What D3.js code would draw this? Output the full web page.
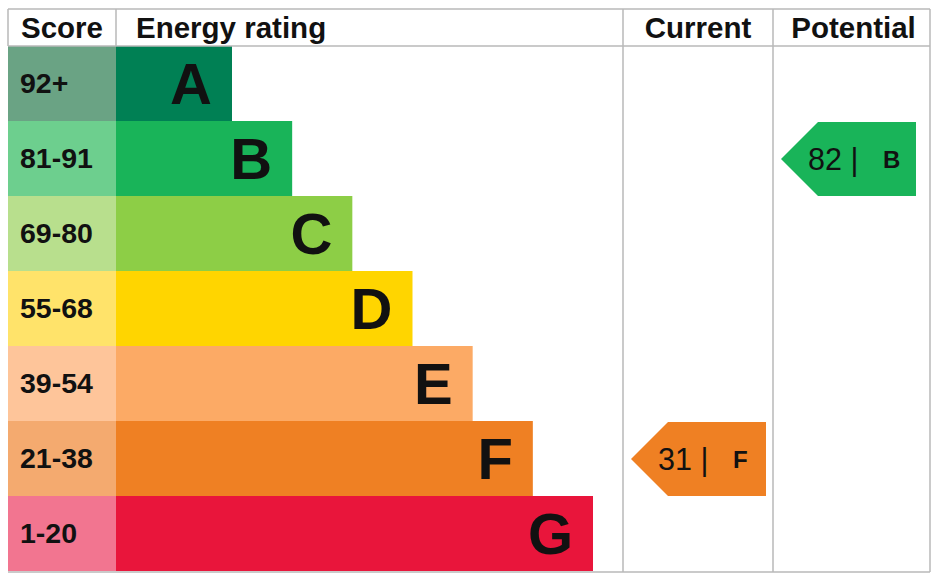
<!DOCTYPE html>
<html lang="en">
<head>
  <meta charset="UTF-8">
  <title>Energy rating</title>
  <script src="https://d3js.org/d3.v7.min.js"></script>
  <style>
    body { margin: 0; background: #fff; }
    svg { display: block; font-family: "Liberation Sans", Arial, sans-serif; }
  </style>
</head>
<body>
  <div id="chart"></div>

  <script>
    // bands, best to worst
    const bands = ["A", "B", "C", "D", "E", "F", "G"];
    const scoreLabels = ["92+", "81-91", "69-80", "55-68", "39-54", "21-38", "1-20"];
    const barColors = ["#008054", "#19b459", "#8dce46", "#ffd500", "#fcaa65", "#ef8023", "#e9153b"];
    const scoreColors = ["#6aa384", "#6dcf8e", "#b8df8d", "#ffe36a", "#fec59a", "#f4aa6f", "#f27590"];
    const headers = ["Score", "Energy rating", "Current", "Potential"];

    const current = { score: 31, band: "F" };
    const potential = { score: 82, band: "B" };

    const width = 949, height = 584;
    const tableTop = 9, headerBottom = 46, tableBottom = 572;
    const cols = [8, 116, 623, 773, 930];   // column edges
    const gridColor = "#b8b8b8";

    const svg = d3.select("#chart").append("svg")
      .attr("width", width)
      .attr("height", height);

    const y = d3.scaleBand()
      .domain(bands)
      .range([headerBottom, tableBottom - 1]);

    // bar right edge by band index
    const barEnd = d3.scaleLinear()
      .domain([0, bands.length - 1])
      .range([232, 593]);

    // score cells
    svg.selectAll("rect.score")
      .data(bands)
      .join("rect")
      .attr("class", "score")
      .attr("x", cols[0])
      .attr("y", d => y(d))
      .attr("width", cols[1] - cols[0])
      .attr("height", y.bandwidth())
      .attr("fill", (d, i) => scoreColors[i]);

    svg.selectAll("text.score")
      .data(bands)
      .join("text")
      .attr("class", "score")
      .attr("x", 20)
      .attr("y", d => y(d) + y.bandwidth() / 2 + 9.5)
      .attr("font-size", 28.5)
      .attr("font-weight", "bold")
      .attr("fill", "#111")
      .text((d, i) => scoreLabels[i]);

    // bars
    svg.selectAll("rect.bar")
      .data(bands)
      .join("rect")
      .attr("class", "bar")
      .attr("x", cols[1])
      .attr("y", d => y(d))
      .attr("width", (d, i) => barEnd(i) - cols[1])
      .attr("height", y.bandwidth())
      .attr("fill", (d, i) => barColors[i]);

    svg.selectAll("text.bar")
      .data(bands)
      .join("text")
      .attr("class", "bar")
      .attr("x", (d, i) => barEnd(i) - 20)
      .attr("y", d => y(d) + y.bandwidth() / 2 + 20.5)
      .attr("text-anchor", "end")
      .attr("font-size", 58)
      .attr("font-weight", "bold")
      .attr("fill", "#111")
      .text(d => d);

    // grid
    const grid = svg.append("g")
      .attr("stroke", gridColor)
      .attr("stroke-width", 1.5);
    grid.append("line").attr("x1", cols[0]).attr("x2", cols[4]).attr("y1", tableTop).attr("y2", tableTop);
    grid.append("line").attr("x1", cols[0]).attr("x2", cols[4]).attr("y1", headerBottom).attr("y2", headerBottom);
    grid.append("line").attr("x1", cols[0]).attr("x2", cols[4]).attr("y1", tableBottom).attr("y2", tableBottom);
    grid.append("line").attr("x1", cols[0]).attr("x2", cols[0]).attr("y1", tableTop).attr("y2", headerBottom);
    grid.append("line").attr("x1", cols[1]).attr("x2", cols[1]).attr("y1", tableTop).attr("y2", headerBottom);
    [cols[2], cols[3], cols[4]].forEach(cx => {
      grid.append("line").attr("x1", cx).attr("x2", cx).attr("y1", tableTop).attr("y2", tableBottom);
    });

    // headers
    const headerX = [21, 136, (cols[2] + cols[3]) / 2, (cols[3] + cols[4]) / 2 + 2];
    const headerAnchor = ["start", "start", "middle", "middle"];
    svg.selectAll("text.header")
      .data(headers)
      .join("text")
      .attr("class", "header")
      .attr("x", (d, i) => headerX[i])
      .attr("y", 38)
      .attr("text-anchor", (d, i) => headerAnchor[i])
      .attr("font-size", 29.5)
      .attr("font-weight", "bold")
      .attr("fill", "#111")
      .text(d => d);

    // rating arrows
    function arrow(rating, colLeft) {
      const i = bands.indexOf(rating.band);
      const y0 = y(rating.band) + 1, y1 = y(rating.band) + y.bandwidth();
      const mid = (y0 + y1) / 2;
      const tip = colLeft + 8, body = tip + 37, right = tip + 135;
      const g = svg.append("g");
      g.append("path")
        .attr("d", `M${tip},${mid}L${body},${y0}L${right},${y0}L${right},${y1}L${body},${y1}Z`)
        .attr("fill", barColors[i]);
      g.append("text")
        .attr("x", tip + 27)
        .attr("y", mid + 10.5)
        .attr("font-size", 30.5)
        .attr("fill", "#111")
        .text(rating.score + " |");
      g.append("text")
        .attr("x", right - 33)
        .attr("y", mid + 8.5)
        .attr("font-size", 24)
        .attr("font-weight", "bold")
        .attr("fill", "#111")
        .text(rating.band);
    }
    arrow(current, cols[2]);
    arrow(potential, cols[3]);
  </script>
</body>
</html>
